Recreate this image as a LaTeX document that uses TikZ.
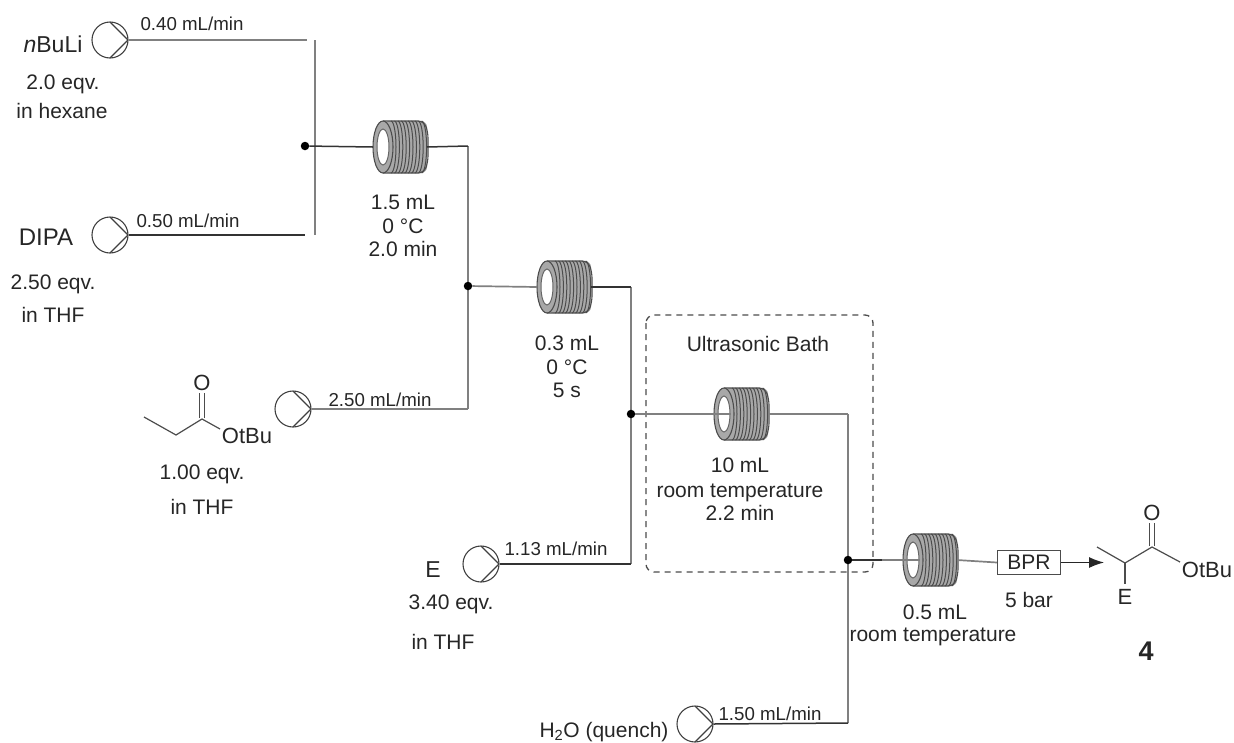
\documentclass[tikz,border=0pt]{standalone}
\usepackage{fontspec}
\setmainfont{Liberation Sans}
\usetikzlibrary{
  arrows.meta,
  calc
}

% coil reactor: name, position
\newcommand{\coilreactor}[2]{
  \node[coilbox] (#1) at (#2) {};
  \coordinate (#1hole) at ($(#1)+(-10,0)$);
  \fill[coilgrey, rounded corners=6pt] ($(#1)+(-17,-26)$) rectangle ($(#1)+(27,26)$);
  \foreach \dx in {-9,-5.6,...,22} {
    \draw[black!70, line width=1pt] ($(#1)+(\dx,-26)$) arc[start angle=90, end angle=-90, x radius=5, y radius=-26];
  }
  \draw[black!70, line width=1.1pt, rounded corners=6pt] ($(#1)+(-17,-26)$) -- ($(#1)+(24,-26)$) -- ($(#1)+(28,-15)$) -- ($(#1)+(28,15)$) -- ($(#1)+(24,26)$) -- ($(#1)+(-17,26)$);
  \draw[black!70, fill=coilgrey, line width=1.1pt] ($(#1)+(-17,0)$) ellipse[x radius=10, y radius=26];
  \draw[black!60, fill=white, line width=1pt] ($(#1)+(-17,0)$) ellipse[x radius=6, y radius=18];
}

\begin{document}
\begin{tikzpicture}[
  x=1pt, y=-1pt,
  font=\fontsize{21}{25}\selectfont,
  textgrey/.style={text=black!85},
  label/.style={textgrey, inner sep=0pt},
  flowlabel/.style={textgrey, inner sep=0pt, font=\fontsize{18.7}{22}\selectfont},
  pump/.style={
    circle, draw=black!75, line width=1.1pt, minimum size=36pt, inner sep=0pt,
    path picture={
      \draw[black!75, line width=1.1pt]
        (path picture bounding box.north) -- (path picture bounding box.east)
        -- (path picture bounding box.south);
    }
  },
  coilbox/.style={rectangle, minimum width=54pt, minimum height=52pt, inner sep=0pt, outer sep=0pt},
  junction/.style={circle, fill=black, minimum size=8.5pt, inner sep=0pt},
  pipe/.style={black!50, line width=1.7pt},
  darkpipe/.style={black!80, line width=1.5pt},
  bprbox/.style={rectangle, draw=black!70, line width=1.1pt, minimum width=63pt, minimum height=24pt, inner sep=0pt, textgrey},
  bond/.style={black!70, line width=1.2pt},
  bath/.style={draw=black!70, line width=1.3pt, rounded corners=8pt, dash pattern=on 6pt off 5pt},
]
\definecolor{coilgrey}{gray}{0.66}
\useasboundingbox (0,0) rectangle (1234,742);

% Ultrasonic bath
\draw[bath] (646,315) rectangle (873,572);
\node[label] (bathlabel) at (758,344) {Ultrasonic Bath};

% Bends of the tubing
\coordinate (teetop) at (315,40);
\coordinate (teebot) at (315,235);
\coordinate (enda) at (307,40);
\coordinate (endb) at (305,235);
\coordinate (benda) at (468,146);
\coordinate (bendb) at (468,409);
\coordinate (bendc) at (631,287);
\coordinate (bendd) at (631,564);
\coordinate (bende) at (848,414);
\coordinate (bendf) at (848,723);
\coordinate (stubd) at (882,560);

% Risers, under the junction dots
\draw[pipe] (teetop) -- (teebot);
\draw[pipe] (benda) -- (bendb);
\draw[pipe] (bendc) -- (bendd);
\draw[pipe] (bende) -- (bendf);

% Pumps
\begin{scope}
\clip (0,0) rectangle (1234,742);
\node[pump] (pumpbuli) at (110,40) {};
\node[pump] (pumpdipa) at (110,235) {};
\node[pump] (pumpester) at (293,409) {};
\node[pump] (pumpe) at (481,564) {};
\node[pump] (pumpwater) at (695,724) {};
\end{scope}

% Coils
\coilreactor{coila}{400,147}
\coilreactor{coilb}{564,287}
\coilreactor{coilc}{741,414}
\coilreactor{coild}{930,560}

% BPR
\node[bprbox] (bpr) at (1029,562.5) {BPR};
\coordinate (prod) at (1104,562.5);

% Junctions
\node[junction] (mixa) at (305,146) {};
\node[junction] (mixb) at (468,286) {};
\node[junction] (mixc) at (631,414) {};
\node[junction] (mixd) at (848,560) {};

% Flows
\draw[pipe] (pumpbuli.east) -- (enda);
\draw[darkpipe] (pumpdipa.east) -- (endb);
\draw[darkpipe] (mixa) -- (coila.west);
\draw[darkpipe] (coila.east) -- (benda);
\draw[pipe] (pumpester.east) -- (bendb);
\draw[pipe] (mixb) -- (coilb.west);
\draw[darkpipe] (coilb.east) -- (bendc);
\draw[darkpipe] (pumpe.east) -- (bendd);
\draw[pipe] (mixc) -- (coilchole);
\draw[pipe] (coilc.east) -- (bende);
\draw[darkpipe] (pumpwater.east) -- (bendf);
\draw[darkpipe] (mixd) -- (stubd);
\draw[pipe] (stubd) -- (coildhole);
\draw[pipe] (coild.east) -- (bpr.west);
\draw[-{Latex[length=15pt,width=11pt]}, black!85, line width=1.2pt] (bpr.east) -- (prod);

% Flow rates
\node[flowlabel] (ratea) at (192,24) {0.40 mL/min};
\node[flowlabel] (rateb) at (188,221) {0.50 mL/min};
\node[flowlabel] (ratec) at (380,400) {2.50 mL/min};
\node[flowlabel] (rated) at (556,549) {1.13 mL/min};
\node[flowlabel] (ratee) at (770,714) {1.50 mL/min};

% Reagents
\node[label, font=\fontsize{23}{27}\selectfont] (buli) at (53,44) {\textit{n}BuLi};
\node[label] (buliq) at (63,84) {2.0 eqv.};
\node[label] (bulis) at (62,111) {in hexane};
\node[label, font=\fontsize{24}{28}\selectfont] (dipa) at (46,237) {DIPA};
\node[label] (dipaq) at (53,284) {2.50 eqv.};
\node[label] (dipas) at (53,315) {in THF};
\node[label] (esterq) at (202,474) {1.00 eqv.};
\node[label] (esters) at (202,507) {in THF};
\node[label, font=\fontsize{23}{27}\selectfont] (elec) at (433,570) {E};
\node[label] (elecq) at (451,604) {3.40 eqv.};
\node[label] (elecs) at (443,642) {in THF};
\node[label] (water) at (604,732) {H\textsubscript{2}O (quench)};

% Reactor conditions
\node[label, align=center] (conda) at (403,226) {1.5 mL\\[-1.5pt]0 °C\\[-1.5pt]2.0 min};
\node[label, align=center] (condb) at (567,367) {0.3 mL\\[-1.5pt]0 °C\\[-1.5pt]5 s};
\node[label, align=center] (condc) at (740,489) {10 mL\\[0pt]room temperature\\[-1.5pt]2.2 min};
\node[label] (condda) at (935,612) {0.5 mL};
\node[label] (conddb) at (933,637) {room temperature};
\node[label] (bprbar) at (1029,600) {5 bar};

% Ester
\node[label, font=\fontsize{22}{26}\selectfont] (esteroxo) at (202,383) {O};
\node[label, font=\fontsize{22}{26}\selectfont] (esterotbu) at (247,436) {OtBu};
\draw[bond] (144,417) -- (176,435) -- (202,419) -- (220,429);
\draw[bond] (199.5,418) -- (199.5,393);
\draw[bond] (204.5,418) -- (204.5,393);

% Product 4
\node[label, font=\fontsize{22}{26}\selectfont] (prodoxo) at (1152,513) {O};
\node[label, font=\fontsize{22}{26}\selectfont] (prodotbu) at (1207,570) {OtBu};
\node[label, font=\fontsize{22}{26}\selectfont] (prode) at (1125,597) {E};
\node[inner sep=0pt, text=black!85, font=\fontsize{27}{31}\selectfont\bfseries] (prodnum) at (1146,651) {4};
\draw[bond] (1097,547) -- (1125,563) -- (1152,547) -- (1180,562);
\draw[bond] (1125,563) -- (1125,584);
\draw[bond] (1149.5,546) -- (1149.5,523);
\draw[bond] (1154.5,546) -- (1154.5,523);

\end{tikzpicture}
\end{document}
